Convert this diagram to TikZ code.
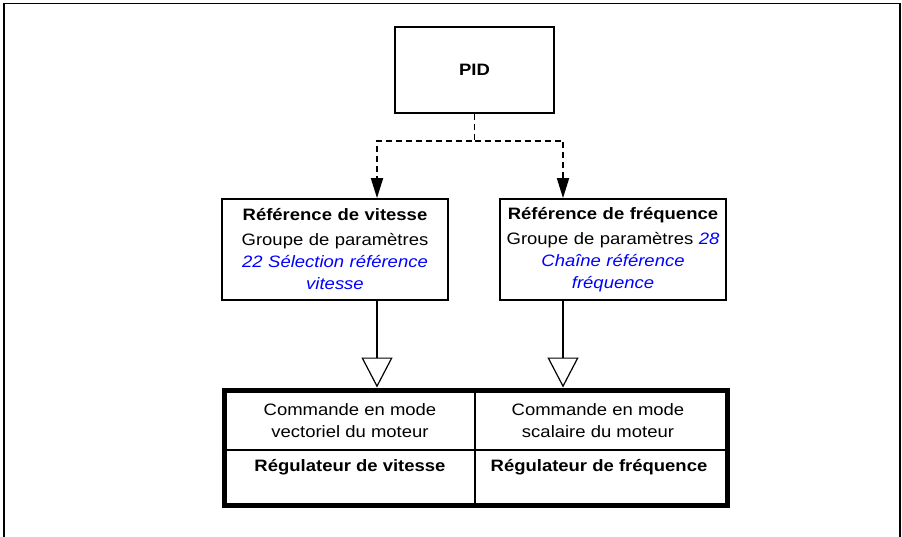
\documentclass[tikz,border=0pt]{standalone}
\usepackage{fontspec}
\setmainfont[FakeStretch=1.12]{Liberation Sans}
\usetikzlibrary{arrows.meta}
\newcommand\lnk[1]{\textcolor{blue}{\itshape #1}}
\begin{document}
\begin{tikzpicture}[x=1pt,y=-1pt,
  txt/.style={font=\fontsize{16.5}{22}\selectfont},
  box/.style={draw, line width=1.8pt, align=center, inner sep=0pt, txt},
  dashline/.style={line width=1.8pt, dash pattern=on 6pt off 4pt},
  solidline/.style={line width=1.5pt},
  thinline/.style={line width=1.5pt},
  frame/.style={line width=1.2pt}]
\useasboundingbox (0,0) rectangle (902,537);
% outer frame (open at the bottom)
\coordinate (fbl) at (4,537);
\coordinate (ftl) at (4,3.5);
\coordinate (ftr) at (900,3.5);
\coordinate (fbr) at (900,537);
\draw[frame] (fbl) -- (ftl) -- (ftr) -- (fbr);

% PID
\node[box, minimum width=159pt, minimum height=86pt] (pid) at (474.5,70) {\bfseries PID};

% reference boxes
\node[box, minimum width=226pt, minimum height=101pt, text width=222pt] (vit) at (335,249.5)
  {\textbf{Référence de vitesse}\\[3pt] Groupe de paramètres\\ \lnk{22 Sélection référence}\\ \lnk{vitesse}};
\node[box, minimum width=226pt, minimum height=101pt, text width=222pt] (frq) at (613,249.5)
  {\textbf{Référence de fréquence}\\[3pt] Groupe de paramètres \lnk{28}\\ \lnk{Chaîne référence}\\ \lnk{fréquence}};

% control box
\node[draw, line width=5pt, minimum width=503.5pt, minimum height=115pt, inner sep=0pt] (ctl) at (475.75,447.5) {};
\coordinate (dv) at (475,0);
\coordinate (hd) at (0,450);
\draw[thinline] (dv |- ctl.north) -- (dv |- ctl.south);
\draw[thinline] (ctl.west |- hd) -- (ctl.east |- hd);
\node[txt, align=center] (c1) at (350,421) {Commande en mode\\vectoriel du moteur};
\node[txt, align=center] (c2) at (598,421) {Commande en mode\\scalaire du moteur};
\node[txt, font=\fontsize{16.5}{22}\selectfont\bfseries, anchor=base] (r1) at (350,471) {Régulateur de vitesse};
\node[txt, font=\fontsize{16.5}{22}\selectfont\bfseries, anchor=base] (r2) at (599,471) {Régulateur de fréquence};

% connectors
\coordinate (jn) at (474.5,141);
\coordinate (xl) at (377,0);
\coordinate (xr) at (563,0);
\draw[dashline, -{Triangle[length=20pt,width=12pt]}] (pid.south) -- (jn) -| (xl |- vit.north);
\draw[dashline, -{Triangle[length=20pt,width=12pt]}] (jn) -| (xr |- frq.north);
\draw[solidline, -{Triangle[open,length=30pt,width=31pt,line width=1.2pt]}] (xl |- vit.south) -- (xl |- ctl.north);
\draw[solidline, -{Triangle[open,length=30pt,width=31pt,line width=1.2pt]}] (xr |- frq.south) -- (xr |- ctl.north);
\end{tikzpicture}
\end{document}
